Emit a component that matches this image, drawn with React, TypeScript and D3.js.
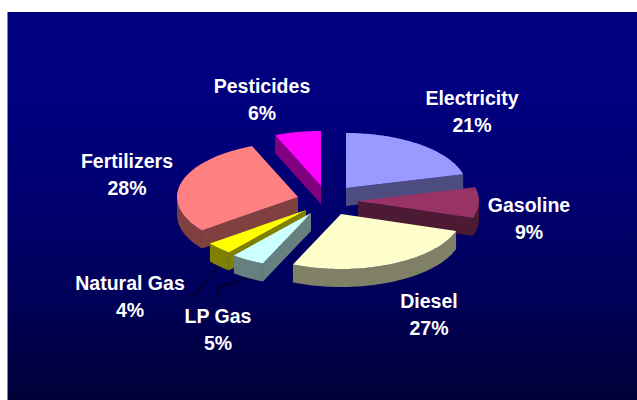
import React from 'react';
import * as d3 from 'd3';

const W = 637, H = 400;

const categories = ['Electricity', 'Gasoline', 'Diesel', 'LP Gas', 'Natural Gas', 'Fertilizers', 'Pesticides'];
const shares = [21, 9, 26.5, 4.5, 3.6, 29.2, 6.2];
const percentLabels = ['21%', '9%', '27%', '5%', '4%', '28%', '6%'];
const topColors = ['#9999FF', '#993366', '#FFFFCC', '#CCFFFF', '#FFFF00', '#FF8080', '#FF00FF'];
const sideColors = ['#4C4C80', '#4D1A33', '#808066', '#668080', '#808000', '#804040', '#800080'];

// layout
const apexX = [346, 358, 341, 311, 306, 298, 321];
const apexY = [188, 201, 214, 213, 210, 197, 186];
const labelX = [472, 529, 429, 218, 130, 127, 262];
const labelY = [105, 212, 308, 323, 290, 168, 93];
const paintOrder = [6, 0, 5, 4, 1, 3, 2];
const RX = 121, RY = 55, DEPTH = 18;

const arcs = d3.pie<number>().sort(null).value(d => d).startAngle(0).endAngle(2 * Math.PI)(shares);

const sx = d3.scaleLinear().domain([-1, 1]).range([-RX, RX]);
const sy = d3.scaleLinear().domain([-1, 1]).range([-RY, RY]);
const pt = (i: number, a: number, drop = 0): [number, number] => [
  apexX[i] + sx(Math.sin(a)),
  apexY[i] + sy(-Math.cos(a)) + drop,
];
const line = d3.line();
const sweep = (i: number, a0: number, a1: number, drop = 0) =>
  d3.range(0, 61).map(k => pt(i, a0 + ((a1 - a0) * k) / 60, drop));

function topPath(i: number) {
  const { startAngle, endAngle } = arcs[i];
  return line([[apexX[i], apexY[i]], ...sweep(i, startAngle, endAngle)])! + 'Z';
}
function outerWall(i: number) {
  const a0 = Math.max(arcs[i].startAngle, Math.PI / 2);
  const a1 = Math.min(arcs[i].endAngle, (3 * Math.PI) / 2);
  if (a1 <= a0) return null;
  return line([...sweep(i, a0, a1), ...sweep(i, a1, a0, DEPTH)])! + 'Z';
}
function radialWalls(i: number) {
  const { startAngle, endAngle } = arcs[i];
  const out: string[] = [];
  const wall = (a: number) => {
    const o = pt(i, a);
    const c: [number, number] = [apexX[i], apexY[i]];
    out.push(line([c, o, [o[0], o[1] + DEPTH], [c[0], c[1] + DEPTH]])! + 'Z');
  };
  if (Math.sin(startAngle) < 0) wall(startAngle);
  if (Math.sin(endAngle) > 0) wall(endAngle);
  return out;
}

export default function App() {
  return (
    <svg width={W} height={H} style={{ position: 'fixed', left: 0, top: 0, display: 'block', background: '#fff' }}>
      <defs>
        <linearGradient id="bg" x1="0" y1="0" x2="0" y2="1">
          <stop offset="0" stopColor="#000080" />
          <stop offset="0.23" stopColor="#000080" />
          <stop offset="0.48" stopColor="#000070" />
          <stop offset="0.74" stopColor="#000058" />
          <stop offset="1" stopColor="#000038" />
        </linearGradient>
      </defs>
      <rect x={7.5} y={12} width={W - 7.5} height={H - 12} fill="url(#bg)" />
      <polyline points="217,268 195,296 187,296" fill="none" stroke="#000" />
      <polyline points="247,278 218,288 218,298" fill="none" stroke="#000" />
      {paintOrder.map(i => {
        const outer = outerWall(i);
        return (
          <g key={categories[i]}>
            {outer && <path d={outer} fill={sideColors[i]} />}
            {radialWalls(i).map((d, k) => <path key={k} d={d} fill={sideColors[i]} />)}
            <path d={topPath(i)} fill={topColors[i]} />
          </g>
        );
      })}
      {categories.map((c, i) => (
        <text key={c} x={labelX[i]} y={labelY[i]} textAnchor="middle" fill="#fff"
          fontFamily="Liberation Sans, Arial, sans-serif" fontWeight="bold" fontSize={19.5}>
          <tspan x={labelX[i]}>{c}</tspan>
          <tspan x={labelX[i]} dy={27}>{percentLabels[i]}</tspan>
        </text>
      ))}
    </svg>
  );
}
